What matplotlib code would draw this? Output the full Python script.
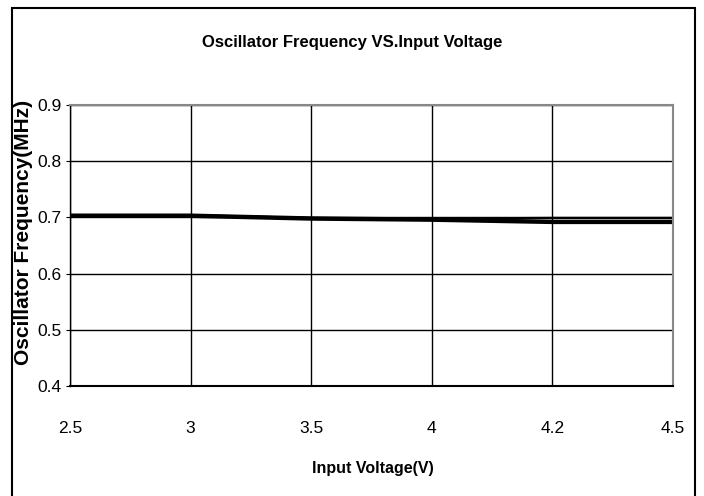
import matplotlib
matplotlib.use("Agg")
import matplotlib.pyplot as plt
from matplotlib.patches import Rectangle

categories = ["2.5", "3", "3.5", "4", "4.2", "4.5"]
freq_a = [0.704, 0.704, 0.699, 0.698, 0.699, 0.699]
freq_b = [0.703, 0.703, 0.698, 0.696, 0.692, 0.692]
yticks = [0.4, 0.5, 0.6, 0.7, 0.8, 0.9]

font = ["Liberation Sans", "DejaVu Sans"]

fig = plt.figure(figsize=(7.04, 4.96), dpi=100)
ax = fig.add_axes([70/704, 1-386/496, (673-70)/704, (386-105)/496])

x = list(range(len(categories)))
ax.plot(x, freq_a, color="black", lw=1.6, solid_joinstyle="round")
ax.plot(x, freq_b, color="black", lw=3.2, solid_joinstyle="round")

ax.set_xlim(0, len(categories)-1)
ax.set_ylim(0.4, 0.9)
ax.set_xticks(x)
ax.set_xticklabels(categories, family=font, fontsize=12.5)
ax.set_yticks(yticks)
ax.set_yticklabels([f"{v:.1f}" for v in yticks], family=font, fontsize=12.5)
ax.tick_params(axis="x", length=0, pad=25)
ax.tick_params(axis="y", length=3, pad=3, direction="out")
ax.grid(True, color="black", lw=1.0)
ax.set_axisbelow(True)
for s in ["top", "right"]:
    ax.spines[s].set_color("#888888")
    ax.spines[s].set_linewidth(1.5)
ax.spines["bottom"].set_linewidth(1.5)
ax.spines["left"].set_linewidth(1.0)

fig.text(352/704, 1-43/496, "Oscillator Frequency VS.Input Voltage", ha="center", va="center",
         family=font, fontweight="bold", fontsize=12)
fig.text(373/704, 1-468/496, "Input Voltage(V)", ha="center", va="center",
         family=font, fontweight="bold", fontsize=11.5)
fig.text(24/704, 1-232/496, "Oscillator Frequency(MHz)", ha="center", va="center", rotation=90,
         family=font, fontweight="bold", fontsize=15)

rect = Rectangle((12/704, -0.05), (695-12)/704, (1-8/496)+0.05, transform=fig.transFigure,
                 fill=False, edgecolor="black", lw=1.5, clip_on=False)
fig.patches.append(rect)

fig.savefig("out.png", dpi=100)
